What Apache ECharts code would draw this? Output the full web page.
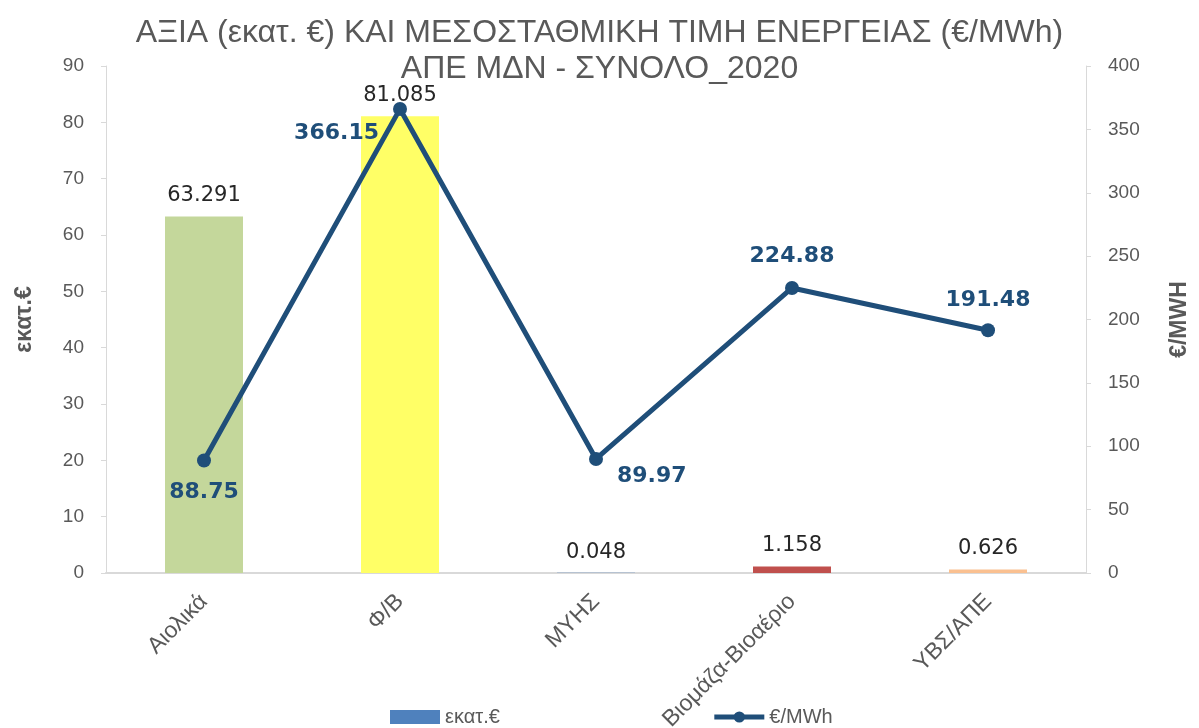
<!DOCTYPE html>
<html>
<head>
<meta charset="utf-8">
<script src="https://cdn.jsdelivr.net/npm/echarts@6/dist/echarts.min.js"></script>
<style>
  html, body { margin: 0; padding: 0; background: #fff; }
  #chart { width: 1199px; height: 728px; }
</style>
</head>
<body>
<div id="chart"></div>
<script>
// categories and values
const categories = ['Αιολικά', 'Φ/Β', 'ΜΥΗΣ', 'Βιομάζα-Βιοαέριο', 'ΥΒΣ/ΑΠΕ'];
const valueMillions = [63.291, 81.085, 0.048, 1.158, 0.626];
const pricePerMWh = [88.75, 366.15, 89.97, 224.88, 191.48];
const barColors = ['#c4d79b', '#ffff66', '#4f81bd', '#c0504d', '#fac090'];
// where each price label sits relative to its point
const priceLabelPos = ['bottom', 'left', 'right', 'top', 'top'];
const priceLabelOffset = [[0, 0], [0, 24], [0, 17], [0, 0], [0, 2]];

const chart = echarts.init(document.getElementById('chart'));
const grey = '#595959';
const font = 'Liberation Sans, sans-serif';

const option = {
  textStyle: { fontFamily: font },
  title: {
    text: 'ΑΞΙΑ (εκατ. €) ΚΑΙ ΜΕΣΟΣΤΑΘΜΙΚΗ ΤΙΜΗ ΕΝΕΡΓΕΙΑΣ (€/MWh)\nΑΠΕ ΜΔΝ - ΣΥΝΟΛΟ_2020',
    left: 'center',
    top: 10,
    textStyle: { fontSize: 32, fontWeight: 'normal', color: grey, lineHeight: 36, fontFamily: font }
  },
  legend: {
    top: 702,
    left: 385,
    itemGap: 212,
    itemWidth: 50,
    itemHeight: 14,
    textStyle: { fontSize: 20, color: grey, fontFamily: font },
    data: [
      { name: 'εκατ.€', icon: 'rect', itemStyle: { color: '#4f81bd' } },
      { name: '€/MWh', lineStyle: { width: 5 } }
    ]
  },
  grid: { left: 106, right: 113, top: 66, bottom: 155, outerBoundsMode: 'none' },
  xAxis: {
    type: 'category',
    data: categories,
    axisLine: { lineStyle: { color: '#d9d9d9', width: 2 } },
    axisTick: { show: false },
    axisLabel: { rotate: 45, fontSize: 23, color: grey, margin: 25, fontFamily: font }
  },
  yAxis: [
    {
      type: 'value',
      min: 0, max: 90, interval: 10,
      name: 'εκατ.€',
      nameLocation: 'middle',
      nameGap: 70,
      nameTextStyle: { fontSize: 23, fontWeight: 'bold', color: grey, fontFamily: font },
      axisLine: { show: true, lineStyle: { color: '#d9d9d9' } },
      axisTick: { show: true, length: 5, lineStyle: { color: '#d9d9d9' } },
      axisLabel: { fontSize: 19, color: grey, margin: 22, fontFamily: font },
      splitLine: { show: false }
    },
    {
      type: 'value',
      min: 0, max: 400, interval: 50,
      name: '€/MWH',
      nameLocation: 'middle',
      nameGap: 82,
      nameRotate: 90,
      nameTextStyle: { fontSize: 23, fontWeight: 'bold', color: grey, fontFamily: font },
      axisLine: { show: true, lineStyle: { color: '#d9d9d9' } },
      axisTick: { show: true, length: 5, lineStyle: { color: '#d9d9d9' } },
      axisLabel: { fontSize: 19, color: grey, margin: 22, fontFamily: font },
      splitLine: { show: false }
    }
  ],
  series: [
    {
      name: 'εκατ.€',
      type: 'bar',
      yAxisIndex: 0,
      barWidth: 78,
      data: valueMillions.map((v, i) => ({ value: v, itemStyle: { color: barColors[i] } })),
      label: {
        show: true,
        position: 'top',
        distance: 10,
        fontSize: 21,
        color: '#262626',
        fontFamily: 'DejaVu Sans, sans-serif',
        formatter: p => p.value.toFixed(3)
      }
    },
    {
      name: '€/MWh',
      type: 'line',
      yAxisIndex: 1,
      symbol: 'circle',
      symbolSize: 14,
      itemStyle: { color: '#1f4e79' },
      lineStyle: { width: 5, color: '#1f4e79' },
      data: pricePerMWh.map((v, i) => ({
        value: v,
        label: { position: priceLabelPos[i], offset: priceLabelOffset[i] }
      })),
      label: {
        show: true,
        distance: 14,
        fontSize: 22,
        fontWeight: 'bold',
        color: '#1f4e79',
        fontFamily: 'DejaVu Sans, sans-serif',
        formatter: p => p.value.toFixed(2)
      }
    }
  ]
};

chart.setOption(option);
</script>
</body>
</html>
